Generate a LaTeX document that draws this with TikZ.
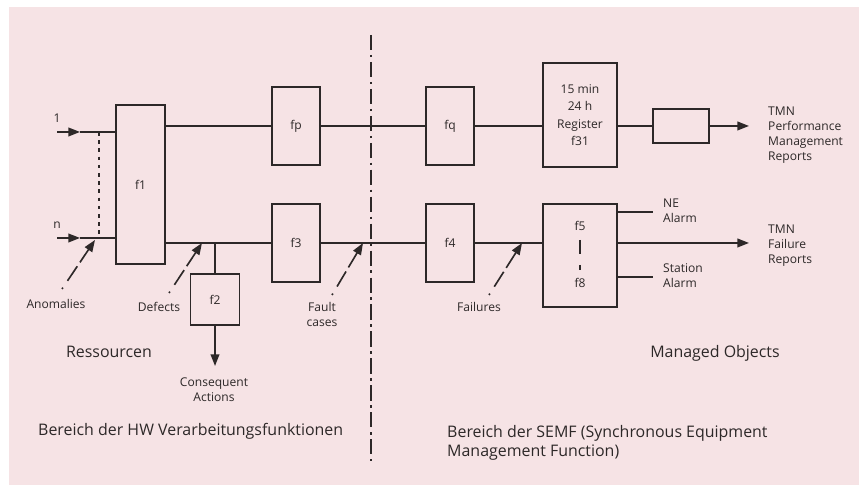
\documentclass[tikz,border=0pt]{standalone}
\usepackage{fontspec}
\setmainfont{Open Sans}
\usetikzlibrary{arrows.meta,calc}
\definecolor{bg}{RGB}{246,227,229}
\definecolor{ink}{RGB}{45,40,40}
\begin{document}
\begin{tikzpicture}[x=0.03cm,y=-0.03cm,
  line/.style={draw=ink,line width=1.4pt},
  box/.style={line,fill=none,inner sep=0pt,text=ink,font=\fontsize{10.3}{12.8}\selectfont},
  arr/.style={line,-{Triangle[length=10pt,width=7.5pt]}},
  hint/.style={line,dash pattern=on 1.4pt off 7pt on 15pt off 4pt on 40pt,-{Triangle[length=10pt,width=7.5pt]}},
  lbl/.style={text=ink,inner sep=0pt,font=\fontsize{10.3}{12.8}\selectfont,align=center},
  llbl/.style={lbl,anchor=west,align=left},
  big/.style={text=ink,inner sep=0pt,font=\fontsize{13.6}{16.2}\selectfont},
  divider/.style={draw=ink,line width=1.3pt,dash pattern=on 13pt off 4pt on 2pt off 4pt}]
\useasboundingbox (0,0) rectangle (859,487);
\fill[white] (0,0) rectangle (859,487);
\fill[bg] (9,7) rectangle (859,485);

% boxes
\node[box,minimum width=1.47cm,minimum height=4.77cm] (f1) at (140.5,184.5) {f1};
\node[box,minimum width=1.44cm,minimum height=2.34cm] (fp) at (296,126) {fp};
\node[box,minimum width=1.44cm,minimum height=2.34cm] (f3) at (296,243) {f3};
\node[box,minimum width=1.44cm,minimum height=2.34cm] (fq) at (450,126) {fq};
\node[box,minimum width=1.44cm,minimum height=2.34cm] (f4) at (450,243) {f4};
\node[box,minimum width=1.47cm,minimum height=1.53cm] (f2) at (215,299.5) {f2};
\node[box,minimum width=2.22cm,minimum height=3.12cm,align=center,font=\fontsize{10.3}{15}\selectfont] (reg) at (580,115) {15 min\\24 h\\Register\\f31};
\node[box,minimum width=1.68cm,minimum height=1.02cm] (sb) at (681,126) {};
\node[box,minimum width=2.22cm,minimum height=3.09cm] (f5) at (580,255.5) {};
\node[lbl] (f5l) at (580,226) {f5};
\node[lbl] (f8l) at (580,283) {f8};
\coordinate (f5a) at (580,240);
\coordinate (f5b) at (580,254);
\coordinate (f5c) at (580,265);
\coordinate (f5d) at (580,270);
\draw[line] (f5a) -- (f5b);
\draw[line] (f5c) -- (f5d);

% inputs
\coordinate (s1) at (57,132);
\coordinate (m1) at (80,132);
\coordinate (sn) at (57,238);
\coordinate (mn) at (80,238);
\draw[arr] (s1) -- (m1);
\draw[line] (m1) -- (m1 -| f1.west);
\draw[arr] (sn) -- (mn);
\draw[line] (mn) -- (mn -| f1.west);
\coordinate (d1) at (99,132);
\coordinate (dn) at (99,238);
\draw[draw=ink,line width=1.3pt,dash pattern=on 3pt off 4pt] (d1) -- (dn);
\node[lbl] (l1) at (57,118) {1};
\node[lbl] (ln) at (57,225) {n};

% upper chain
\draw[line] (f1.east |- fp.west) -- (fp.west);
\draw[line] (fp.east) -- (fq.west);
\draw[line] (fq.east) -- (fq.east -| reg.west);
\draw[line] (fq.east -| reg.east) -- (sb.west);
\coordinate (outP) at (749,126);
\draw[arr] (sb.east) -- (outP);

% lower chain
\coordinate (j) at (215,243);
\draw[line] (f1.east |- f3.west) -- (f3.west);
\draw[line] (j) -- (f2.north);
\coordinate (ca) at (215,366);
\draw[arr] (f2.south) -- (ca);
\draw[line] (f3.east) -- (f4.west);
\draw[line] (f4.east) -- (f4.east -| f5.west);
\coordinate (outF) at (749,243);
\draw[arr] (f4.east -| f5.east) -- (outF);
\coordinate (ne) at (653,212);
\coordinate (st) at (653,277);
\draw[line] (ne -| f5.east) -- (ne);
\draw[line] (st -| f5.east) -- (st);

% hint arrows
\coordinate (aT) at (62,289); \coordinate (aH) at (95,240);
\coordinate (dT) at (169,293); \coordinate (dH) at (202,243);
\coordinate (cT) at (332,295); \coordinate (cH) at (363,243);
\coordinate (fT) at (489,295); \coordinate (fH) at (522,243);
\draw[hint] (aT) -- (aH);
\draw[hint] (dT) -- (dH);
\draw[hint] (cT) -- (cH);
\draw[hint] (fT) -- (fH);

% divider
\coordinate (dvT) at (371,35);
\coordinate (dvB) at (371,465);
\draw[divider] (dvT) -- (dvB);

% labels
\node[lbl] (anom) at (56,304) {Anomalies};
\node[lbl] (def) at (159,307) {Defects};
\node[lbl] (fc) at (322,314) {Fault\\cases};
\node[lbl] (fail) at (479,307) {Failures};
\node[lbl] (cons) at (214,390) {Consequent\\Actions};
\node[llbl] (tmnp) at (768,135.5) {TMN\\Performance\\Management\\Reports};
\node[llbl] (tmnf) at (768,245.5) {TMN\\Failure\\Reports};
\node[llbl] (nea) at (663,211) {NE\\Alarm};
\node[llbl] (sta) at (663,276) {Station\\Alarm};
\node[big] (res) at (109,352) {Ressourcen};
\node[big] (mo) at (715,353) {Managed Objects};
\node[big,anchor=west] (hw) at (38,431) {Bereich der HW Verarbeitungsfunktionen};
\node[big,anchor=west,align=left] (semf) at (447,442.5) {Bereich der SEMF (Synchronous Equipment\\Management Function)};
\end{tikzpicture}
\end{document}
